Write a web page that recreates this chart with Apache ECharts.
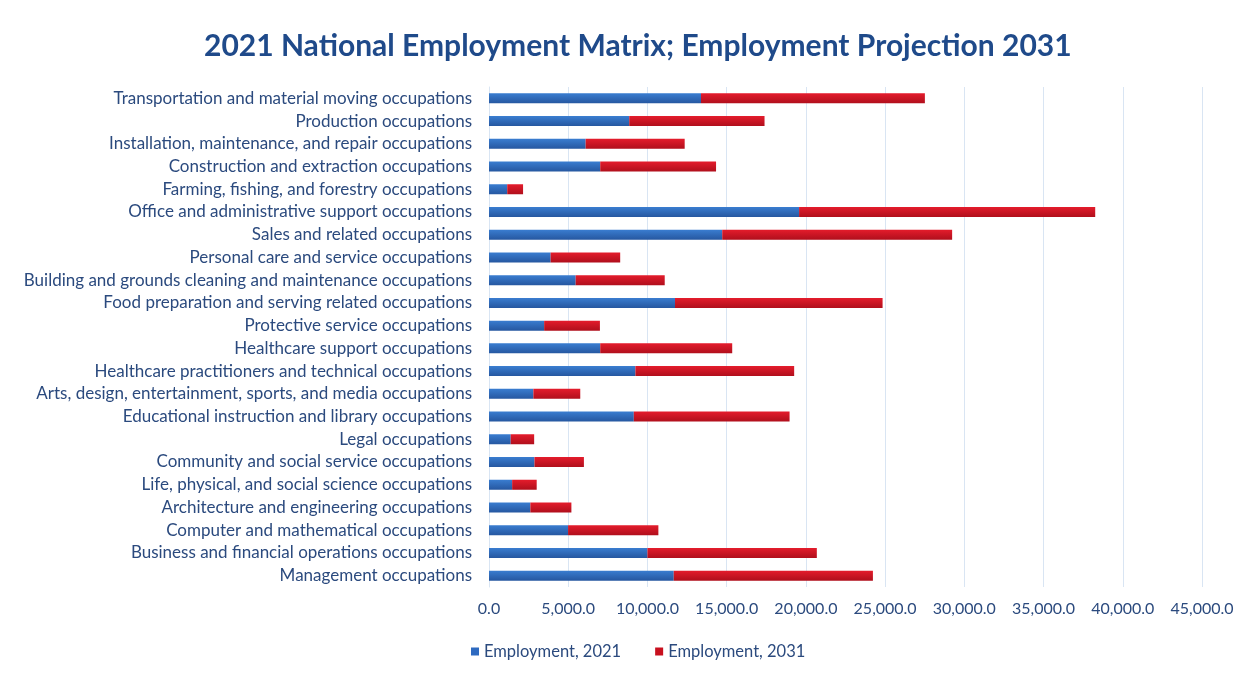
<!DOCTYPE html>
<html><head><meta charset="utf-8">
<script src="https://cdn.jsdelivr.net/npm/echarts@6/dist/echarts.min.js"></script>
<style>html,body{margin:0;padding:0;background:#fff}#c{width:1242px;height:673px}</style>
</head><body><div id="c"></div>
<script>
const categories = [
"Transportation and material moving occupations",
"Production occupations",
"Installation, maintenance, and repair occupations",
"Construction and extraction occupations",
"Farming, fishing, and forestry occupations",
"Office and administrative support occupations",
"Sales and related occupations",
"Personal care and service occupations",
"Building and grounds cleaning and maintenance occupations",
"Food preparation and serving related occupations",
"Protective service occupations",
"Healthcare support occupations",
"Healthcare practitioners and technical occupations",
"Arts, design, entertainment, sports, and media occupations",
"Educational instruction and library occupations",
"Legal occupations",
"Community and social service occupations",
"Life, physical, and social science occupations",
"Architecture and engineering occupations",
"Computer and mathematical occupations",
"Business and financial operations occupations",
"Management occupations"
];
const employment2021 = [13380, 8850, 6100, 7020, 1150, 19570, 14720, 3890, 5470, 11740, 3480, 7020, 9240, 2800, 9140, 1370, 2870, 1460, 2610, 4990, 10000, 11660];
const employment2031 = [14130, 8540, 6250, 7310, 1000, 18690, 14510, 4390, 5620, 13100, 3520, 8330, 10020, 2960, 9830, 1480, 3120, 1550, 2590, 5700, 10690, 12570];
const seriesNames = ["Employment, 2021", "Employment, 2031"];
const xTicks = {min: 0, max: 45000, interval: 5000};

const txt = '#2B4A7E';
const font = 'Lato';
const chart = echarts.init(document.getElementById('c'));
chart.setOption({
  animation: false,
  title: {text: '2021 National Employment Matrix; Employment Projection 2031', left: 199, top: 26,
    textStyle: {fontFamily: font, fontWeight: 'bold', fontSize: 30, color: '#1F4A8A'}},
  legend: {bottom: 8, left: 466, itemWidth: 8, itemHeight: 8, itemGap: 34, icon: 'rect',
    textStyle: {fontFamily: font, fontSize: 16.5, color: txt}},
  grid: {left: 489, right: 40, top: 87, height: 500, containLabel: false},
  xAxis: {type: 'value', min: xTicks.min, max: xTicks.max, interval: xTicks.interval,
    axisLine: {show: false}, axisTick: {show: false},
    splitLine: {lineStyle: {color: '#D9E5F3', width: 1}},
    axisLabel: {fontFamily: font, fontSize: 16, color: txt, margin: 14,
      formatter: v => v.toLocaleString('en-US', {minimumFractionDigits: 1, maximumFractionDigits: 1})}},
  yAxis: {type: 'category', data: categories, inverse: true,
    axisLine: {show: true, lineStyle: {color: '#D9E5F3'}}, axisTick: {show: false},
    axisLabel: {fontFamily: font, fontSize: 17, color: txt, margin: 17}},
  series: [
    {name: seriesNames[0], type: 'bar', stack: 't', data: employment2021, barWidth: 10,
     itemStyle: {color: new echarts.graphic.LinearGradient(0,0,0,1,[{offset:0,color:'#3A7DD0'},{offset:1,color:'#2657A0'}]),
       shadowColor: 'rgba(0,0,0,0.3)', shadowBlur: 3, shadowOffsetX: 1, shadowOffsetY: 2}},
    {name: seriesNames[1], type: 'bar', stack: 't', data: employment2031, barWidth: 10,
     itemStyle: {color: new echarts.graphic.LinearGradient(0,0,0,1,[{offset:0,color:'#E41C2C'},{offset:1,color:'#B00F1C'}]),
       shadowColor: 'rgba(0,0,0,0.3)', shadowBlur: 3, shadowOffsetX: 1, shadowOffsetY: 2}}
  ]
});
chart.setOption({legend: {data: [
  {name: seriesNames[0], itemStyle: {color: '#2E6AC0'}},
  {name: seriesNames[1], itemStyle: {color: '#C8101E'}}]}});
</script></body></html>
